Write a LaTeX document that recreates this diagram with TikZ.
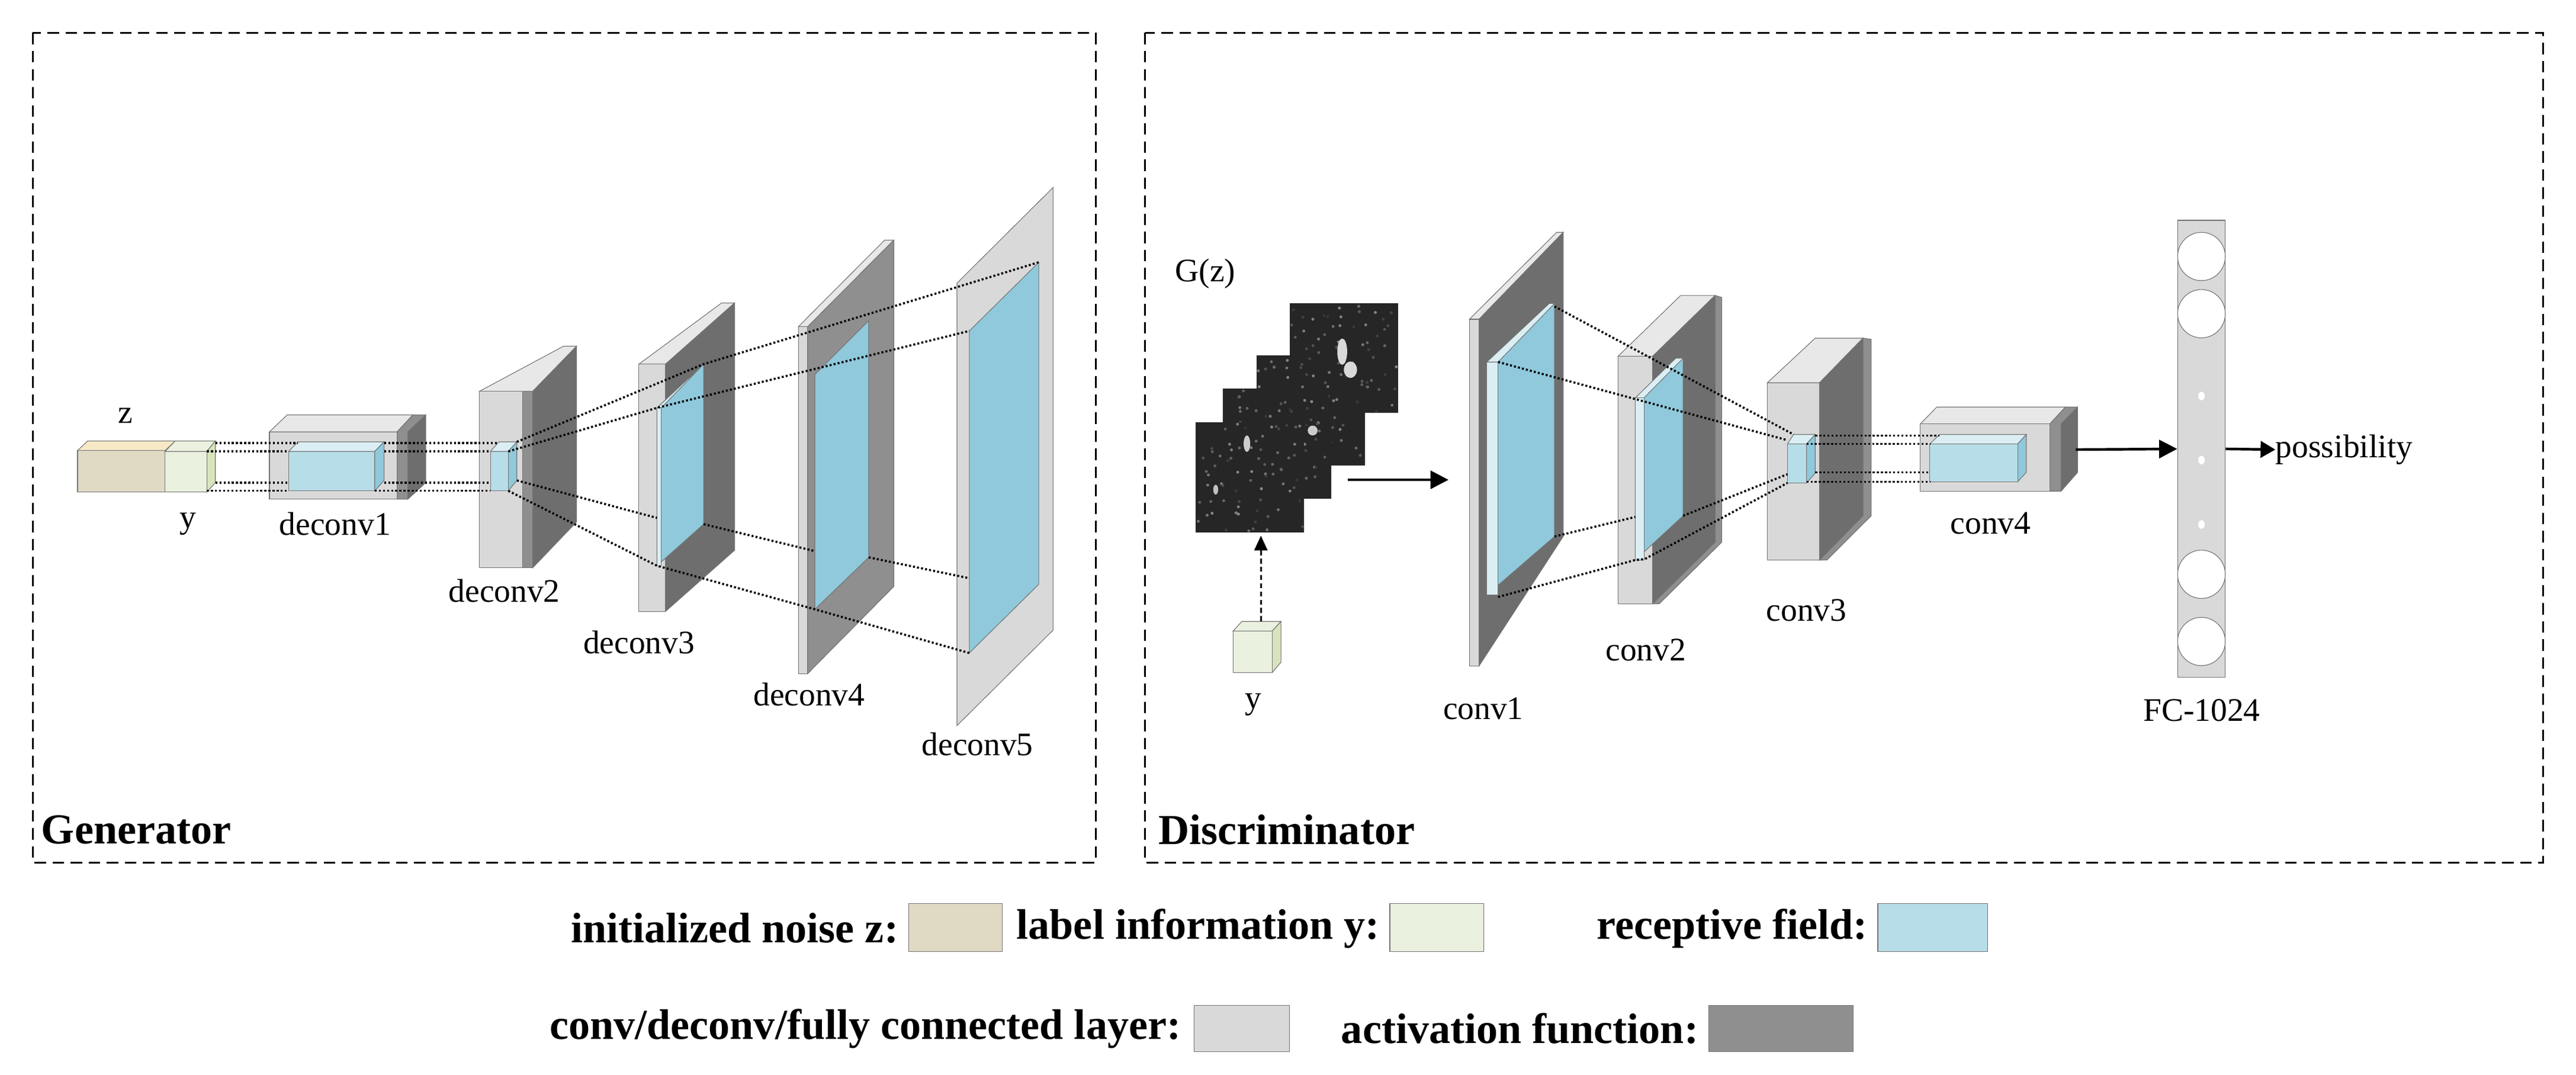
\documentclass[tikz,border=0pt]{standalone}
\usepackage{fontspec}
\setmainfont{Liberation Serif}
\usetikzlibrary{arrows.meta}
\definecolor{noise}{HTML}{E0D9C4}
\definecolor{noisetop}{HTML}{F7E9C6}
\definecolor{lab}{HTML}{EBF1DF}
\definecolor{labside}{HTML}{D7E4BD}
\definecolor{rec}{HTML}{B7DDE8}
\definecolor{rectop}{HTML}{DAEEF3}
\definecolor{recdeep}{HTML}{8FC9DB}
\definecolor{conv}{HTML}{D9D9D9}
\definecolor{convtop}{HTML}{E8E8E8}
\definecolor{act}{HTML}{8F8F8F}
\definecolor{actdark}{HTML}{6E6E6E}
\begin{document}
\begin{tikzpicture}[x=1pt,y=-1pt,
  f/.style={draw=black!55,line width=0.4pt},
  dl/.style={line width=1.3pt,dash pattern=on 1.2pt off 1.3pt},
  lbl/.style={font=\fontsize{20}{22}\selectfont,inner sep=0pt},
  bl/.style={font=\fontsize{26}{28}\selectfont\bfseries,inner sep=0pt},
  frame/.style={draw,line width=1pt,dash pattern=on 7pt off 4pt},
  arr/.style={line width=1.6pt,-{Triangle[length=11pt,width=11pt]}}]
\useasboundingbox (0,0) rectangle (1568,654);
\fill[white] (0,0) rectangle (1568,654);
% frames
\draw[frame] (20,20) rectangle (667,525);
\draw[frame] (697,20) rectangle (1548,525);
\node[bl,anchor=west] (gen) at (25,505) {Generator};
\node[bl,anchor=west] (dis) at (705,505) {Discriminator};

% ---------- Generator ----------
% z block
\filldraw[f,fill=noisetop] (47.2,274.2)--(53.3,268.4)--(106.6,268.4)--(100.5,274.2)--cycle;
\filldraw[f,fill=noise] (47.2,274.2) rectangle (100.5,299.5);
% y block
\filldraw[f,fill=lab] (100.5,274.7)--(106.6,268.4)--(131.1,268.4)--(125.9,274.7)--cycle;
\filldraw[f,fill=labside] (125.9,274.7)--(131.1,268.4)--(131.1,293.7)--(125.9,299.5)--cycle;
\filldraw[f,fill=lab] (100.5,274.7) rectangle (125.9,299.5);
\node[lbl] (zl) at (76.5,253) {z};
\node[lbl] (yl) at (114.5,319) {y};
% deconv1
\filldraw[f,fill=convtop] (164,262.8)--(174.8,252.5)--(251.3,252.5)--(241.7,262.8)--cycle;
\filldraw[f,fill=act] (241.7,262.8)--(251.3,252.5)--(259.1,252.5)--(259.1,293.7)--(248.2,303.8)--(241.7,303.8)--cycle;
\filldraw[f,fill=actdark] (248.2,262.8)--(259.1,252.5)--(259.1,293.7)--(248.2,303.8)--cycle;
\filldraw[f,fill=conv] (164,262.8) rectangle (241.7,303.8);
\filldraw[f,fill=rectop] (175.7,274.7)--(181.4,268.9)--(233.8,268.9)--(228.1,274.7)--cycle;
\filldraw[f,fill=recdeep] (228.1,274.7)--(233.8,268.9)--(233.8,292.4)--(228.1,298.7)--cycle;
\filldraw[f,fill=rec] (175.7,274.7) rectangle (228.1,298.7);
\node[lbl] (d1) at (204,319) {deconv1};
% deconv2
\filldraw[f,fill=convtop] (291.9,238.1)--(343,210.7)--(350.9,210.7)--(324.3,238.1)--cycle;
\filldraw[f,fill=actdark] (324.3,238.1)--(350.9,210.7)--(350.9,317.7)--(324.3,345.5)--cycle;
\filldraw[f,fill=act] (318.1,238.1) rectangle (324.3,345.5);
\filldraw[f,fill=conv] (291.9,238.1) rectangle (318.1,345.5);
\filldraw[f,fill=rectop] (298.5,274.7)--(303.7,268.9)--(314.6,268.9)--(309.4,274.7)--cycle;
\filldraw[f,fill=recdeep] (309.4,274.7)--(314.6,268.9)--(314.6,292.4)--(309.4,298.7)--cycle;
\filldraw[f,fill=rec] (298.5,274.7) rectangle (309.4,298.7);
\node[lbl] (d2) at (307,359.5) {deconv2};
% dotted y -> deconv1 -> deconv2
\draw[dl] (131.1,269.7)--(181.4,269.7);
\draw[dl] (125.9,274.7)--(175.7,274.7);
\draw[dl] (131.1,293.7)--(175.7,293.7);
\draw[dl] (125.9,298.7)--(175.7,298.7);
\draw[dl] (233.8,269.7)--(303.7,269.7);
\draw[dl] (233.8,274.7)--(298.5,274.7);
\draw[dl] (233.8,293.7)--(298.5,293.7);
\draw[dl] (228.1,298.7)--(298.5,298.7);
% deconv3
\filldraw[f,fill=convtop] (388.9,221.6)--(439.2,184.4)--(447.1,184.4)--(405.1,221.6)--cycle;
\filldraw[f,fill=actdark] (405.1,221.6)--(447.1,184.4)--(447.1,334.9)--(405.1,372.1)--cycle;
\filldraw[f,fill=conv] (388.9,221.6) rectangle (405.1,372.1);
\filldraw[f,fill=recdeep] (399.9,248.2)--(428.3,221.6)--(428.3,319)--(399.9,344.3)--cycle;
\filldraw[f,fill=rectop] (399.9,248.2)--(402.5,248.2)--(428.3,221.6)--cycle;
\filldraw[f,fill=rectop] (399.9,248.2) rectangle (402.5,344.3);
\node[lbl] (d3) at (389,391) {deconv3};
% deconv4
\filldraw[f,fill=convtop] (486,198.8)--(538.4,146.2)--(544,146.2)--(491.6,198.8)--cycle;
\filldraw[f,fill=act] (491.6,198.8)--(544,146.2)--(544,357)--(491.6,410)--cycle;
\filldraw[f,fill=conv] (486,198.8) rectangle (491.6,410);
\filldraw[f,fill=recdeep] (496,227.9)--(528.8,195.1)--(528.8,339.2)--(496,370.8)--cycle;
\node[lbl] (d4) at (492.5,422.7) {deconv4};
% deconv5
\filldraw[f,fill=conv] (582.5,172.3)--(641,114.1)--(641,383.5)--(582.5,441.6)--cycle;
\filldraw[f,fill=recdeep] (590,201.4)--(632.3,159.6)--(632.3,355.6)--(590,397.4)--cycle;
\node[lbl] (d5) at (595,453) {deconv5};
% dotted deconv2 -> deconv3 -> deconv5
\draw[dl] (314.6,268.9)--(428.3,221.6)--(632.3,159.6);
\draw[dl] (309.4,274.7)--(399.9,248.2)--(590,201.4);
\draw[dl] (314.6,292.4)--(399.9,315.2);
\draw[dl] (428.3,319)--(496,335.4);
\draw[dl] (528.8,339.2)--(590,351.9);
\draw[dl] (309.4,298.7)--(399.9,344.3)--(496,370.8)--(590,397.4);

% ---------- Discriminator ----------
\node[lbl] (gz) at (733.7,166.7) {G(z)};
\pgfmathsetseed{7}
\foreach \xa/\ya in {785/184.4,764.9/216.2,744.2/236.4,727.9/257.1}{
  \fill[black!85] (\xa,\ya) rectangle ++(66,67);
  \foreach \k in {1,...,70}{
    \pgfmathsetmacro\px{\xa+1+64*rnd}\pgfmathsetmacro\py{\ya+1+65*rnd}\pgfmathsetmacro\gg{20+35*rnd}
    \fill[white!\gg!black] (\px,\py) circle (0.9);
  }
}
\fill[white!85!black] (817,214) ellipse (3 and 8);
\fill[white!85!black] (822,225) ellipse (4 and 5);
\fill[white!80!black] (799,262) ellipse (3 and 3);
\fill[white!80!black] (759,270) ellipse (2 and 5);
\fill[white!75!black] (740,298) ellipse (1.5 and 3);
\draw[arr] (820.4,292)--(881.7,292);
% y box
\filldraw[f,fill=lab] (750.6,384)--(755.9,378.2)--(779.7,378.2)--(774.4,384)--cycle;
\filldraw[f,fill=labside] (774.4,384)--(779.7,378.2)--(779.7,403)--(774.4,409.3)--cycle;
\filldraw[f,fill=lab] (750.6,384) rectangle (774.4,409.3);
\coordinate (yt) at (767.5,378);
\coordinate (gzb) at (767.5,326);
\draw[line width=1pt,dash pattern=on 3pt off 2pt,-{Triangle[length=9pt,width=8pt]}] (yt)--(gzb);
\node[lbl] (yd) at (762.8,428.8) {y};
% conv1
\filldraw[f,fill=convtop] (894.4,194.3)--(947.5,141.4)--(951.5,141.4)--(900.2,194.3)--cycle;
\filldraw[f,fill=actdark] (900.2,194.3)--(951.5,141.4)--(951.5,326.5)--(900.2,405.4)--cycle;
\filldraw[f,fill=conv] (894.4,194.3) rectangle (900.2,405.4);
\filldraw[f,fill=recdeep] (905,220.3)--(946.2,184.7)--(946.2,326.5)--(905,362.1)--cycle;
\filldraw[f,fill=rectop] (905,220.3)--(943,184.7)--(946.2,184.7)--(911.9,220.3)--cycle;
\filldraw[f,fill=rectop] (905,220.3) rectangle (911.9,362.1);
\node[lbl] (c1) at (902.9,431.1) {conv1};
% conv2
\filldraw[f,fill=convtop] (984.9,216.8)--(1023,179.8)--(1044,179.8)--(1006,216.8)--cycle;
\filldraw[f,fill=act] (1006,216.8)--(1044,179.8)--(1048,181)--(1048,330)--(1010,367.4)--(1006,367.4)--cycle;
\filldraw[f,fill=actdark] (1006,216.8)--(1044,179.8)--(1044,330)--(1006,367.4)--cycle;
\filldraw[f,fill=conv] (984.9,216.8) rectangle (1006,367.4);
\filldraw[f,fill=recdeep] (995.4,242.1)--(1024.5,218)--(1024.5,313.9)--(995.4,340.8)--cycle;
\filldraw[f,fill=rectop] (995.4,242.1)--(1020,218)--(1024.5,218)--(1000.7,242.1)--cycle;
\filldraw[f,fill=rectop] (995.4,242.1) rectangle (1000.7,340.8);
\node[lbl] (c2) at (1001.8,395.5) {conv2};
% conv3
\filldraw[f,fill=convtop] (1075.8,232.9)--(1104.9,205.8)--(1134,205.8)--(1107.6,232.9)--cycle;
\filldraw[f,fill=act] (1107.6,232.9)--(1134,205.8)--(1139,206.5)--(1139,313.9)--(1112,340.8)--(1107.6,340.8)--cycle;
\filldraw[f,fill=actdark] (1107.6,232.9)--(1134,205.8)--(1134,313.9)--(1107.6,340.8)--cycle;
\filldraw[f,fill=conv] (1075.8,232.9) rectangle (1107.6,340.8);
\filldraw[f,fill=rectop] (1088,270.2)--(1091.7,264.4)--(1104.9,264.4)--(1099.6,270.2)--cycle;
\filldraw[f,fill=recdeep] (1099.6,270.2)--(1104.9,264.4)--(1104.9,288)--(1099.6,293.9)--cycle;
\filldraw[f,fill=rec] (1088,270.2) rectangle (1099.6,293.9);
\node[lbl] (c3) at (1099.6,371.3) {conv3};
% dotted conv1 -> conv3
\draw[dl] (946.2,186.5)--(1091.7,264.4);
\draw[dl] (911.9,220.3)--(1088,267.9);
\draw[dl] (946.2,326.5)--(995.4,314.6);
\draw[dl] (1024.5,313.9)--(1088,288.6);
\draw[dl] (911.9,363.3)--(995.4,340.8)--(1001,340.3)--(1088,293.9);
% conv4
\filldraw[f,fill=convtop] (1168.9,258)--(1178.9,247.7)--(1257.2,247.7)--(1247.7,258)--cycle;
\filldraw[f,fill=act] (1247.7,258)--(1257.2,247.7)--(1264.6,247.7)--(1264.6,287.4)--(1254.5,298.9)--(1247.7,298.9)--cycle;
\filldraw[f,fill=actdark] (1254.5,258)--(1264.6,247.7)--(1264.6,287.4)--(1254.5,298.9)--cycle;
\filldraw[f,fill=conv] (1168.9,258) rectangle (1247.7,298.9);
\filldraw[f,fill=rectop] (1174.7,270.2)--(1180.5,264.4)--(1233.4,264.4)--(1228.1,270.2)--cycle;
\filldraw[f,fill=recdeep] (1228.1,270.2)--(1233.4,264.4)--(1233.4,287.4)--(1228.1,293.2)--cycle;
\filldraw[f,fill=rec] (1174.7,270.2) rectangle (1228.1,293.2);
\node[lbl] (c4) at (1211.7,318.5) {conv4};
\draw[dl] (1104.9,265.1)--(1180.5,265.1);
\draw[dl] (1099.6,270.2)--(1174.7,270.2);
\draw[dl] (1104.9,287.4)--(1174.7,287.4);
\draw[dl] (1099.6,293.2)--(1174.7,293.2);
% FC
\node[f,fill=conv,minimum width=29.1pt,minimum height=278.2pt,inner sep=0pt] (fc) at (1340,273.2) {};
\foreach \cy in {156.1,190.9,349.5,390.4}{\filldraw[f,fill=white] (1340,\cy) ellipse (14.5 and 14.7);}
\foreach \cy in {241,280,319.2}{\fill[white] (1340,\cy) ellipse (2 and 2.6);}
\draw[arr] (1263.5,273.6)--(fc.west);
\node[lbl,anchor=west] (pos) at (1385,273.6) {possibility};
\draw[line width=1.6pt,-{Triangle[length=9pt,width=10pt]}] (fc.east)--(pos.west);
\node[lbl] (fcl) at (1340.2,432.3) {FC-1024};

% ---------- Legend ----------
\node[bl,anchor=east] (l1) at (547,565) {initialized noise z:};
\filldraw[f,fill=noise] (553,550) rectangle (610,579);
\node[bl,anchor=east] (l2) at (840,565) {label information y:};
\filldraw[f,fill=lab] (846,550) rectangle (903,579);
\node[bl,anchor=east] (l3) at (1137,565) {receptive field:};
\filldraw[f,fill=rec] (1143,550) rectangle (1210,579);
\node[bl,anchor=east] (l4) at (719,626) {conv/deconv/fully connected layer:};
\filldraw[f,fill=conv] (727,612) rectangle (785,640);
\node[bl,anchor=east] (l5) at (1034,626) {activation function:};
\filldraw[f,fill=act] (1040,612) rectangle (1128,640);
\end{tikzpicture}
\end{document}
